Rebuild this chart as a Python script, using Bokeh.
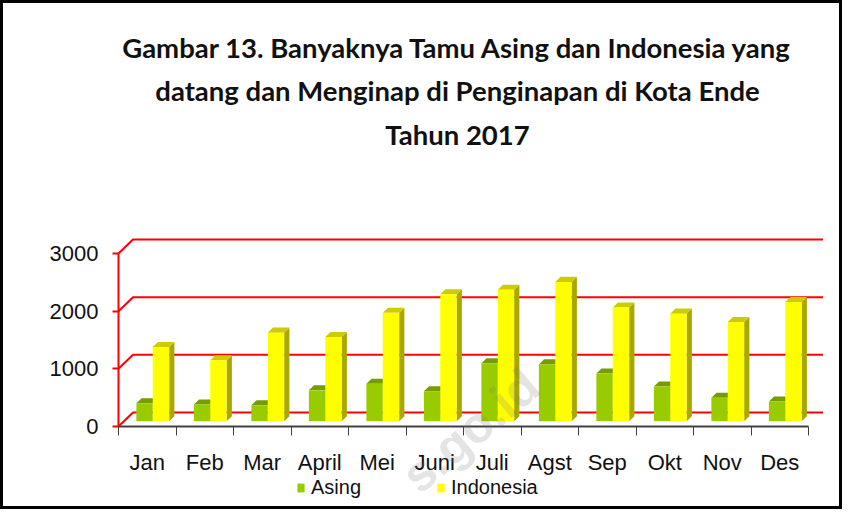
import math
from bokeh.plotting import figure
from bokeh.models import Range1d, FixedTicker, Label, Legend, LegendItem
from bokeh.embed import file_html
from bokeh.resources import INLINE

# ---------------- data ----------------
months = ["Jan", "Feb", "Mar", "April", "Mei", "Juni", "Juli", "Agst", "Sep", "Okt", "Nov", "Des"]
asing = [310, 290, 275, 535, 650, 520, 1005, 985, 825, 600, 405, 340]
indonesia = [1285, 1055, 1535, 1460, 1880, 2200, 2280, 2415, 1970, 1865, 1720, 2065]
y_ticks = [0, 1000, 2000, 3000]
title_lines = [
    "Gambar 13. Banyaknya Tamu Asing dan Indonesia yang",
    "datang dan Menginap di Penginapan di Kota Ende",
    "Tahun 2017",
]
series_names = ["Asing", "Indonesia"]
watermark = "s.go.id"   # visible part of the faint watermark

# ---------------- geometry / style ----------------
W, H = 842, 509
AX_X = 118            # front y-axis position (px from left)
AX_Y = 426            # front x-axis position (px from top)
PXX = 57.5            # px per category
PXY = 57.67 / 1000.0  # px per unit value
n = len(months)
DX = 14.5 / PXX       # depth offset of back wall (x units)
DY = 14.0 / PXY       # depth offset of back wall (value units)
F1, F2 = 0.38, 0.74   # bar front / back depth fractions
BW = 16.4 / PXX       # single bar width

GREEN, GREEN_TOP, GREEN_SIDE = "#99CC00", "#779C00", "#6A8A00"
YEL, YEL_TOP, YEL_SIDE = "#FFFF00", "#CCCC00", "#A8A800"
RED = "#FF0000"
AX_FONT = "Liberation Sans"


def px_to_data(px, py):
    return (px - AX_X) / PXX, (AX_Y - py) / PXY


p = figure(width=W, height=H, output_backend="svg", toolbar_location=None,
           title=None,
           x_range=Range1d(-AX_X / PXX, (W - AX_X) / PXX),
           y_range=Range1d(-(H - AX_Y) / PXY, AX_Y / PXY),
           min_border_left=0, min_border_right=0, min_border_top=0,
           min_border_bottom=0,
           background_fill_color="white", border_fill_color="white")
p.outline_line_color = "black"
p.outline_line_width = 5
p.grid.visible = False

# back wall + side wall gridlines
gx = [[0, DX, n + DX] for _ in y_ticks]
gy = [[v, v + DY, v + DY] for v in y_ticks]
p.multi_line(gx, gy, line_color=RED, line_width=2)

# bars
bx, by = F1 * DX, F1 * DY
tdx, tdy = (F2 - F1) * DX, (F2 - F1) * DY


def bar_parts(lefts, vals):
    rights = [l + BW for l in lefts]
    tops = [v + by for v in vals]
    side_x = [[r, r, r + tdx, r + tdx] for r in rights]
    side_y = [[by, t, t + tdy, by + tdy] for t in tops]
    top_x = [[l, r, r + tdx, l + tdx] for l, r in zip(lefts, rights)]
    top_y = [[t, t, t + tdy, t + tdy] for t in tops]
    return rights, tops, side_x, side_y, top_x, top_y


a_left = [i + 0.5 - BW + bx for i in range(n)]
i_left = [i + 0.5 + bx for i in range(n)]

ar, at, asx, asy, atx, aty = bar_parts(a_left, asing)
p.patches(asx, asy, fill_color=GREEN_SIDE, line_color=None)
p.patches(atx, aty, fill_color=GREEN_TOP, line_color=None)
r_a = p.quad(left=a_left, right=ar, bottom=[by] * n, top=at,
             fill_color=GREEN, line_color=None)

ir, it, isx, isy, itx, ity = bar_parts(i_left, indonesia)
p.patches(isx, isy, fill_color=YEL_SIDE, line_color=None)
p.patches(itx, ity, fill_color=YEL_TOP, line_color=None)
r_i = p.quad(left=i_left, right=ir, bottom=[by] * n, top=it,
             fill_color=YEL, line_color=None)

# y axis (front, red)
ya = p.yaxis[0]
ya.fixed_location = 0
ya.ticker = FixedTicker(ticks=y_ticks, minor_ticks=[])
ya.bounds = (0, 3000)
ya.axis_line_color = RED
ya.axis_line_width = 2
ya.major_tick_line_color = RED
ya.major_tick_line_width = 2
ya.major_tick_out = 6
ya.major_tick_in = 0
ya.minor_tick_line_color = None
ya.major_label_standoff = 14
ya.major_label_text_font = AX_FONT
ya.major_label_text_font_size = "22px"
ya.major_label_text_color = "#111111"

# x axis (front, dark)
xa = p.xaxis[0]
xa.fixed_location = 0
centers = [i + 0.5 for i in range(n)]
xa.ticker = FixedTicker(ticks=centers, minor_ticks=list(range(n + 1)))
xa.major_label_overrides = {c: m for c, m in zip(centers, months)}
xa.bounds = (0, n)
xa.axis_line_color = "#404040"
xa.axis_line_width = 2
xa.major_tick_line_color = None
xa.major_tick_out = 9
xa.major_tick_in = 0
xa.minor_tick_line_color = "#404040"
xa.minor_tick_line_width = 1
xa.minor_tick_out = 9
xa.minor_tick_in = 0
xa.major_label_standoff = 14
xa.major_label_text_font = AX_FONT
xa.major_label_text_font_size = "22px"
xa.major_label_text_color = "#111111"

# faint watermark (over the bars)
wx, wy = px_to_data(470, 430)
p.add_layout(Label(x=wx, y=wy, text=watermark, angle=math.radians(40),
                   text_align="center", text_baseline="middle",
                   text_font="Liberation Sans", text_font_style="bold",
                   text_font_size="50px", text_color="#7a7a7a",
                   text_alpha=0.2))

# title
for txt, ry in zip(title_lines, [46.5, 90, 133.5]):
    tx, ty = px_to_data(457, ry)
    p.add_layout(Label(x=tx, y=ty, text=txt,
                       text_align="center", text_baseline="alphabetic",
                       text_font="Lato", text_font_style="bold",
                       text_font_size="27.5px", text_color="#111111"))

# legend
legend = Legend(items=[LegendItem(label=series_names[0], renderers=[r_a]),
                       LegendItem(label=series_names[1], renderers=[r_i])],
                orientation="horizontal", location=(296, 10),
                background_fill_alpha=0, border_line_color=None,
                padding=0, margin=0, spacing=0,
                glyph_width=9, glyph_height=11, label_standoff=6,
                label_width=125,
                label_text_font="Liberation Sans", label_text_font_size="20px",
                label_text_color="#111111")
p.add_layout(legend)

open("out.html", "w").write(file_html(p, INLINE))
